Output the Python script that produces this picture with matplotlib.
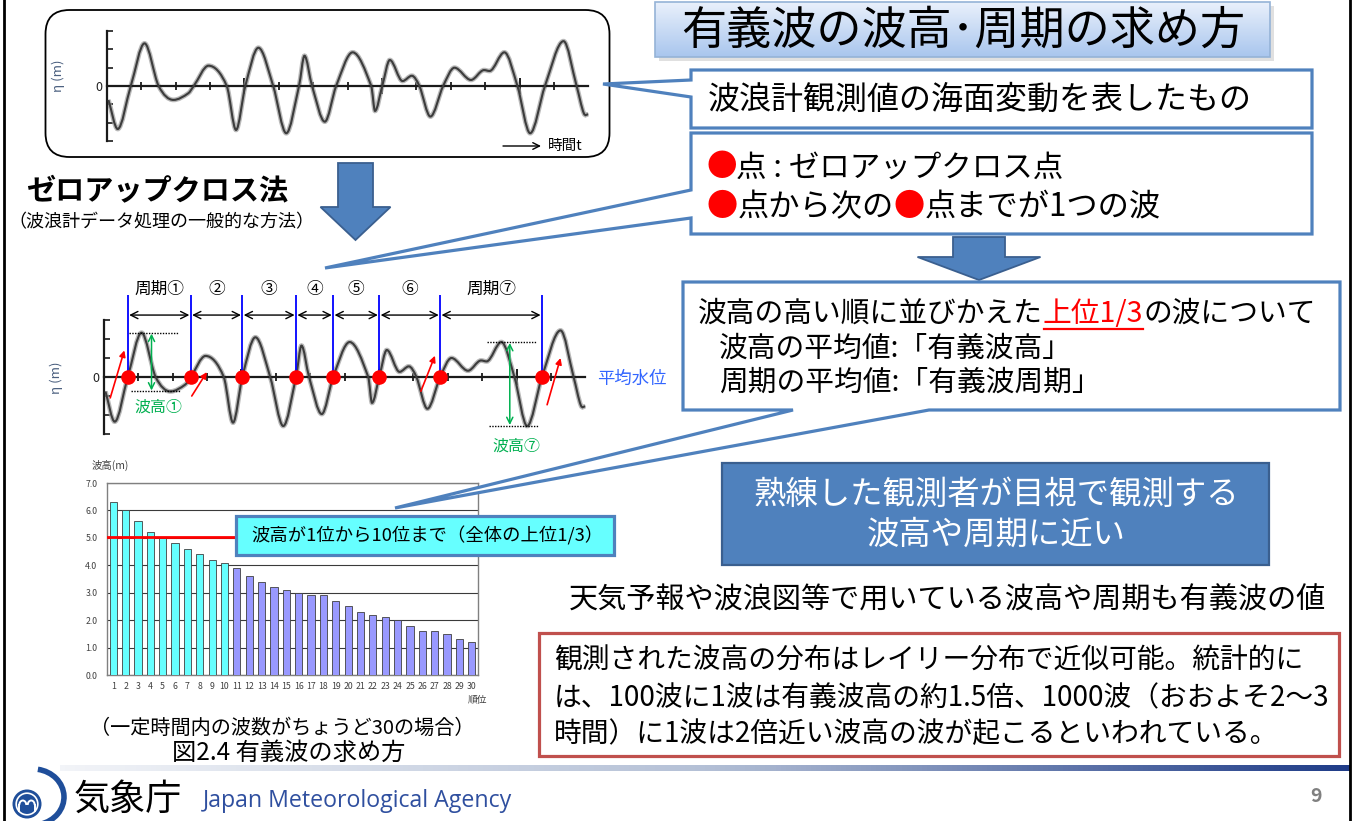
import numpy as np
import matplotlib
matplotlib.use("Agg")
import matplotlib.pyplot as plt
from matplotlib.patches import FancyBboxPatch, Polygon, Rectangle, Circle, Arc, PathPatch, FancyArrowPatch
from matplotlib.path import Path
from matplotlib.colors import LinearSegmentedColormap

plt.rcParams['font.family'] = ['Noto Sans CJK JP', 'DejaVu Sans']

W, H = 1355, 821

# ---------------- data ----------------
# sea-surface elevation record (time in tick units, elevation in axis units)
wave_t = [0.05, 0.32, 0.70, 1.10, 1.51, 1.94, 2.37, 2.53, 2.96, 3.49, 3.76, 4.03,
          4.41, 4.84, 5.22, 5.59, 5.75, 5.97, 6.34, 6.67, 7.15, 7.69, 7.80, 8.01,
          8.23, 8.60, 8.87, 9.09, 9.41, 9.78, 10.11, 10.59, 10.97, 11.13, 11.56,
          11.94, 12.31, 12.74, 13.28, 13.66, 13.87, 14.00]
wave_eta = [-0.76, -2.35, 0.0, 2.33, 0.0, -0.76, -0.40, 0.0, 1.11, 0.0, -2.40, 0.0,
            2.09, 0.0, -2.58, 0.0, 1.65, 0.0, -1.95, 0.0, 1.84, 0.0, -1.36, 0.0,
            1.42, 0.27, 0.56, 0.0, -1.67, 0.0, 1.00, 0.33, 0.87, 0.82, 1.84,
            0.0, -2.58, 0.0, 2.45, 0.0, -1.49, -1.55]

# wave heights sorted by rank
rank = list(range(1, 31))
wave_height = [6.3, 6.0, 5.6, 5.2, 5.0, 4.8, 4.6, 4.4, 4.2, 4.1,
               3.9, 3.6, 3.4, 3.2, 3.1, 3.0, 2.9, 2.9, 2.7, 2.5,
               2.3, 2.2, 2.1, 2.0, 1.8, 1.6, 1.6, 1.5, 1.3, 1.2]
n_top = 10
bar_yticks = [0.0, 1.0, 2.0, 3.0, 4.0, 5.0, 6.0, 7.0]

period_labels = ['周期①', '②', '③', '④', '⑤', '⑥', '周期⑦']
height_labels = {0: '波高①', 6: '波高⑦'}

# ---------------- figure ----------------
fig = plt.figure(figsize=(W / 100, H / 100), dpi=100)
fig.patch.set_facecolor('white')


def px_axes(x0, y0, x1, y1, z):
    return fig.add_axes([x0 / W, 1 - y1 / H, (x1 - x0) / W, (y1 - y0) / H], zorder=z)


def overlay(z):
    a = px_axes(0, 0, W, H, z)
    a.set_xlim(0, W)
    a.set_ylim(H, 0)
    a.axis('off')
    return a


bg = overlay(0)
fg = overlay(10)
renderer = fig.canvas.get_renderer()

BLUE_EDGE = '#4f81bd'


def hermite_path(t, y):
    t = np.asarray(t, float)
    y = np.asarray(y, float)
    n = len(t)
    d = np.zeros(n)
    for i in range(n):
        if i == 0:
            d[i] = (y[1] - y[0]) / (t[1] - t[0])
        elif i == n - 1:
            d[i] = (y[-1] - y[-2]) / (t[-1] - t[-2])
        elif (y[i] - y[i - 1]) * (y[i + 1] - y[i]) <= 0:
            d[i] = 0.0
        else:
            d[i] = (y[i + 1] - y[i - 1]) / (t[i + 1] - t[i - 1])
    verts = [(t[0], y[0])]
    codes = [Path.MOVETO]
    for i in range(n - 1):
        h = t[i + 1] - t[i]
        verts += [(t[i] + h / 3, y[i] + d[i] * h / 3),
                  (t[i + 1] - h / 3, y[i + 1] - d[i + 1] * h / 3),
                  (t[i + 1], y[i + 1])]
        codes += [Path.CURVE4] * 3
    return Path(verts, codes)


def wave_axes(x0px, zero_y, tx, ey, ylo, yhi):
    xl, xr = -1, 15
    ax = px_axes(x0px + xl * tx, zero_y - yhi * ey, x0px + xr * tx, zero_y - ylo * ey, 5)
    ax.set_xlim(xl, xr)
    ax.set_ylim(ylo, yhi)
    ax.patch.set_alpha(0)
    for s in ['top', 'right']:
        ax.spines[s].set_visible(False)
    for s in ['left', 'bottom']:
        ax.spines[s].set_position(('data', 0))
        ax.spines[s].set_color('#1a1a1a')
        ax.spines[s].set_linewidth(1.6)
    ax.spines['left'].set_bounds(-3, 3)
    ax.spines['bottom'].set_bounds(0, 14)
    ax.set_xticks([4, 8, 12])
    ax.set_xticks([1, 2, 3, 5, 6, 7, 9, 10, 11, 13], minor=True)
    ax.tick_params(axis='x', which='major', direction='inout', length=12, width=1.4,
                   color='#1a1a1a', labelbottom=False)
    ax.tick_params(axis='x', which='minor', direction='inout', length=6, width=1.3,
                   color='#1a1a1a', labelbottom=False)
    ax.set_yticks([-3, -2, -1, 0, 1, 2, 3])
    ax.set_yticklabels(['', '', '', '0', '', '', ''])
    ax.tick_params(axis='y', direction='in', length=4, width=1.2, color='#1a1a1a',
                   labelsize=9, pad=3, labelcolor='#222222')
    p = hermite_path(wave_t, wave_eta)
    ax.add_patch(PathPatch(p, fill=False, ec='#9c9c9c', lw=3.4, alpha=0.7, zorder=2))
    ax.add_patch(PathPatch(p, fill=False, ec='#3c3c3c', lw=1.5, zorder=3))
    return ax


# ---------------- top panel: rounded frame + wave ----------------
bg.add_patch(FancyBboxPatch((45.5, 10), 564, 147, boxstyle='round,pad=0,rounding_size=24',
                            fc='white', ec='black', lw=1.3))
ax1 = wave_axes(106.7, 86, 34.4, 18.3, -3.5, 3.5)
bg.text(58, 76, 'η (m)', rotation=90, fontsize=9.5, color='#4a5f7f', ha='center', va='center')
fg.add_patch(FancyArrowPatch((503, 146), (541, 146), arrowstyle='->', mutation_scale=12,
                             lw=1.0, color='black', shrinkA=0, shrinkB=0))
fg.text(548, 146, '時間t', fontsize=10.5, ha='left', va='center')

# ---------------- zero-up-cross panel ----------------
ax2 = wave_axes(103.7, 377, 34.4, 19.0, -4.5, 5.5)
bg.text(56, 378, 'η (m)', rotation=90, fontsize=9.5, color='#4a5f7f', ha='center', va='center')

eta_arr = np.asarray(wave_eta)
up = [wave_t[i] for i in range(1, len(wave_t) - 1)
      if eta_arr[i] == 0 and eta_arr[i - 1] < 0 and eta_arr[i + 1] > 0]

ax2.vlines(up, -0.35, 4.3, color='#0000ff', lw=1.3, zorder=4)
for i in range(len(up) - 1):
    ax2.add_patch(FancyArrowPatch((up[i] + 0.04, 3.26), (up[i + 1] - 0.04, 3.26),
                                  arrowstyle='<->', mutation_scale=13, lw=1.0, color='black',
                                  shrinkA=0, shrinkB=0, zorder=4))
    ax2.text((up[i] + up[i + 1]) / 2, 4.62, period_labels[i], fontsize=12,
             ha='center', va='center')
ax2.plot(up, [0] * len(up), 'o', color='#ff0000', ms=10.5, mec='none', zorder=6)

# red up-crossing arrows (offsets relative to the crossing)
red_arrows = {0: (-0.51, -1.1, -0.10, 1.4), 1: (0.03, -1.0, 0.47, 0.26),
              6: (-0.56, -0.75, -0.15, 1.12), 7: (0.15, -1.46, 0.54, 1.0)}
for k, (a, b, c, d) in red_arrows.items():
    ax2.add_patch(FancyArrowPatch((up[k] + a, b), (up[k] + c, d), arrowstyle='-|>',
                                  mutation_scale=9, lw=1.2, color='#ff0000',
                                  shrinkA=0, shrinkB=0, zorder=7))

# wave-height annotations
wt = np.asarray(wave_t)
label_drop = {0: 0.8, 6: 1.05}
for k, lab in height_labels.items():
    sel = (wt > up[k]) & (wt < up[k + 1])
    crest = eta_arr[sel].max()
    trough = eta_arr[sel].min()
    tc = wt[sel][eta_arr[sel].argmax()]
    tr = wt[sel][eta_arr[sel].argmin()]
    xa = (tc + tr) / 2 - 0.13
    ax2.plot([xa - 0.65, xa + 0.8], [crest, crest], color='black', lw=1.0, ls=(0, (1, 1)), zorder=4)
    ax2.plot([xa - 0.6, xa + 0.85], [trough, trough], color='black', lw=1.0, ls=(0, (1, 1)), zorder=4)
    ax2.add_patch(FancyArrowPatch((xa, crest - 0.05), (xa, trough + 0.05), arrowstyle='<->',
                                  mutation_scale=11, lw=1.1, color='#00b050',
                                  shrinkA=0, shrinkB=0, zorder=5))
    ax2.text(xa + 0.2, trough - label_drop[k], lab, fontsize=11.5, color='#00b050',
             ha='center', va='center')
fg.text(597, 379, '平均水位', fontsize=12.5, color='#3366ff', ha='left', va='center')

# ---------------- bar chart ----------------
bx = px_axes(107, 483, 478, 675, 5)
bar_colors = ['#66ffff' if r <= n_top else '#9999ff' for r in rank]
bx.bar(rank, wave_height, width=0.58, color=bar_colors, edgecolor='#404040', lw=0.6, zorder=3)
bx.set_xlim(0.5, 30.5)
bx.set_ylim(0, 7)
bx.set_yticks(bar_yticks)
bx.set_yticklabels([f'{v:.1f}' for v in bar_yticks])
bx.set_xticks(rank)
bx.set_xticklabels([str(r) for r in rank])
bx.tick_params(axis='both', length=0, labelsize=6.3, labelcolor='#404040')
bx.tick_params(axis='y', pad=7)
bx.tick_params(axis='x', pad=5)
bx.yaxis.grid(True, color='#3a3a3a', lw=0.8)
bx.set_axisbelow(True)
for s in bx.spines.values():
    s.set_color('#808080')
    s.set_linewidth(1.0)
top_mean = float(np.mean(sorted(wave_height, reverse=True)[:n_top]))
bx.plot([0.5, 11.5], [top_mean, top_mean], color='#ff0000', lw=2, zorder=4)
bg.text(110, 465, '波高(m)', fontsize=7.5, color='#404040', ha='center', va='center')
bg.text(477, 700, '順位', fontsize=7, color='#404040', ha='center', va='center')

# ---------------- captions ----------------
bg.text(282, 728, '（一定時間内の波数がちょうど30の場合）', fontsize=14.5, ha='center', va='center')
bg.text(289, 753, '図2.4 有義波の求め方', fontsize=17.5, ha='center', va='center')

# ---------------- left headings & arrow ----------------
bg.text(26, 191, 'ゼロアップクロス法', fontsize=21, fontweight='bold', ha='left', va='center')
bg.text(8, 222, '（波浪計データ処理の一般的な方法）', fontsize=13, ha='left', va='center')


def down_arrow(ax, xc, shaft_w, head_w, y_top, y_head, y_tip):
    pts = [(xc - shaft_w / 2, y_top), (xc + shaft_w / 2, y_top), (xc + shaft_w / 2, y_head),
           (xc + head_w / 2, y_head), (xc, y_tip), (xc - head_w / 2, y_head),
           (xc - shaft_w / 2, y_head)]
    ax.add_patch(Polygon(pts, closed=True, fc='#4f81bd', ec='#3a5f8f', lw=1.3))


down_arrow(bg, 355.5, 35, 70, 163, 207, 240)
down_arrow(bg, 979, 52, 123, 237, 257, 280)

# ---------------- title ----------------
bg.add_patch(Rectangle((659, 6), 615, 55, fc='#000000', alpha=0.12, lw=0))
tb = Rectangle((655, 2), 615, 55, fc='none', ec='#95b3d7', lw=1.2, zorder=3)
bg.add_patch(tb)
grad_cmap = LinearSegmentedColormap.from_list('g', ['#e9f0fb', '#a9c6ee'])
im = bg.imshow(np.linspace(0, 1, 64).reshape(-1, 1), cmap=grad_cmap, extent=(655, 1270, 57, 2),
               aspect='auto', origin='upper', zorder=2)
im.set_clip_path(tb)
bg.text(963, 31, '有義波の波高･周期の求め方', fontsize=32.5, ha='center', va='center', zorder=4)


# ---------------- callouts ----------------
def callout_left(ax, x0, y0, x1, y1, b1, b2, tip, ec=BLUE_EDGE):
    pts = [(x0, y0), (x1, y0), (x1, y1), (x0, y1), (x0, b2), tip, (x0, b1)]
    ax.add_patch(Polygon(pts, closed=True, fc='white', ec=ec, lw=2.3, joinstyle='miter'))


def callout_bottom(ax, x0, y0, x1, y1, c1, c2, tip, ec=BLUE_EDGE):
    pts = [(x0, y0), (x1, y0), (x1, y1), (c2, y1), tip, (c1, y1), (x0, y1)]
    ax.add_patch(Polygon(pts, closed=True, fc='white', ec=ec, lw=2.3, joinstyle='miter'))


def text_width(s, size):
    t = fig.text(0, 0, s, fontsize=size)
    w = t.get_window_extent(renderer).width
    t.remove()
    return w


def rich(ax, x, y, segs, size):
    out = []
    ref = text_width('口', size)
    for s, c in segs:
        ax.text(x, y, s, color=c, fontsize=size, ha='left', va='center')
        adv = text_width(s + '口', size) - ref
        out.append((x, x + adv))
        x += adv
    return out


callout_left(fg, 691, 70, 1312, 128, 80, 97, (603, 84))
fg.text(708, 100, '波浪計観測値の海面変動を表したもの', fontsize=23, ha='left', va='center')

callout_left(fg, 691, 133, 1312, 234, 190, 218, (325, 268))
rich(fg, 706, 168, [('●', '#ff0000'), ('点 : ゼロアップクロス点', 'black')], 22)
rich(fg, 706, 207, [('●', '#ff0000'), ('点から次の', 'black'), ('●', '#ff0000'),
                    ('点までが1つの波', 'black')], 22.5)

callout_bottom(fg, 683, 282, 1340, 410, 793, 929, (395, 508))
ext = rich(fg, 698, 314, [('波高の高い順に並びかえた', 'black'), ('上位1/3', '#ff0000'),
                          ('の波について', 'black')], 20.7)
fg.plot([ext[1][0] + 1, ext[1][1] - 1], [329, 329], color='#ff0000', lw=1.6)
fg.text(719, 349, '波高の平均値:「有義波高」', fontsize=20.7, ha='left', va='center')
fg.text(719, 383, '周期の平均値:「有義波周期」', fontsize=20.7, ha='left', va='center')

# bar-chart callout box
fg.add_patch(Rectangle((236, 516), 378, 39, fc='#66ffff', ec=BLUE_EDGE, lw=2.3))
fg.text(427, 536, '波高が1位から10位まで（全体の上位1/3）', fontsize=13.2, ha='center', va='center')

# blue statement box
fg.add_patch(Rectangle((722, 463), 547, 102, fc='#4f81bd', ec='#3a5f8f', lw=1.6))
fg.text(996, 495, '熟練した観測者が目視で観測する', fontsize=23.3, color='white', ha='center', va='center')
fg.text(996, 535, '波高や周期に近い', fontsize=23.3, color='white', ha='center', va='center')

fg.text(569, 601, '天気予報や波浪図等で用いている波高や周期も有義波の値', fontsize=21,
        ha='left', va='center')

fg.add_patch(Rectangle((539, 633), 800, 123, fc='white', ec='#c0504d', lw=2.3))
red_lines = ['観測された波高の分布はレイリー分布で近似可能。統計的に',
             'は、100波に1波は有義波高の約1.5倍、1000波（おおよそ2～3',
             '時間）に1波は2倍近い波高の波が起こるといわれている。']
for yy, line in zip([661, 698, 734], red_lines):
    fg.text(554, yy, line, fontsize=20, ha='left', va='center')

# ---------------- footer ----------------
foot_cmap = LinearSegmentedColormap.from_list('f', ['#f2f4f8', '#b4c0d6', '#1f3c88'])
bg.imshow(np.linspace(0, 1, 256).reshape(1, -1), cmap=foot_cmap, extent=(60, 1350, 771, 765),
          aspect='auto', zorder=1)
bg.add_patch(Circle((27, 804), 14.5, fc='#1f4e9a', ec='none', zorder=3))
bg.add_patch(Circle((27, 804), 10.8, fc='none', ec='white', lw=1.2, zorder=4))
bg.add_patch(Arc((22.8, 805), 7, 9, theta1=180, theta2=360, ec='white', lw=1.4, zorder=5))
bg.add_patch(Arc((31.2, 805), 7, 9, theta1=180, theta2=360, ec='white', lw=1.4, zorder=5))
bg.plot([19.3, 19.3], [805, 811], color='white', lw=1.4, zorder=5)
bg.plot([34.7, 34.7], [805, 811], color='white', lw=1.4, zorder=5)
bg.add_patch(Arc((33, 797), 62, 56, theta1=-80, theta2=75, ec='#1f4e9a', lw=4, zorder=3))
bg.text(74, 800, '気象庁', fontsize=26, ha='left', va='center')
bg.text(203, 801, 'Japan Meteorological Agency', fontsize=16.7, color='#2f4f9f',
        ha='left', va='center', family=['Open Sans', 'DejaVu Sans'])
bg.text(1316, 797, '9', fontsize=14, fontweight='bold', color='#808080', ha='center', va='center')

# slide borders
bg.plot([4, 4], [0, H], color='black', lw=2)
bg.plot([1350, 1350], [0, H], color='black', lw=2)

for a in (bg, fg):
    a.set_xlim(0, W)
    a.set_ylim(H, 0)

fig.savefig('out.png', dpi=100, facecolor='white')
